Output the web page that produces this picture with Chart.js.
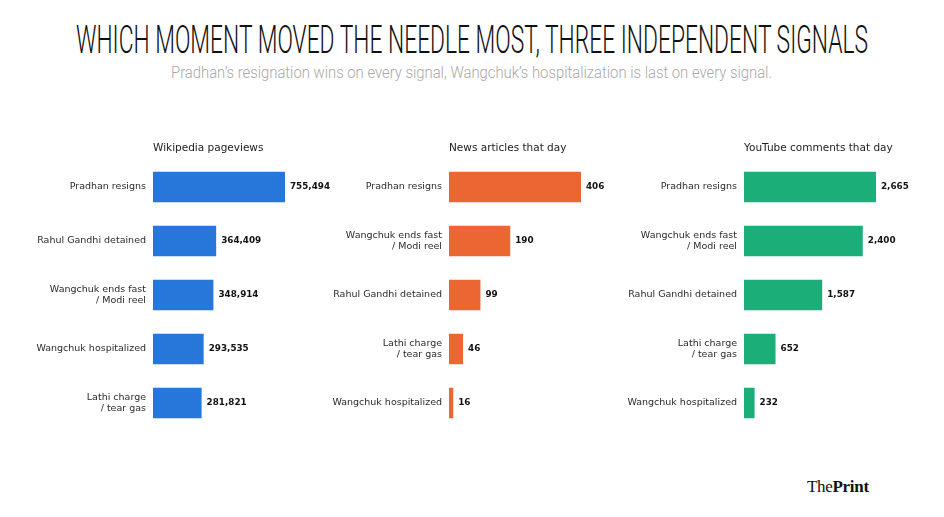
<!DOCTYPE html>
<html>
<head>
<meta charset="utf-8">
<script src="https://cdn.jsdelivr.net/npm/chart.js@4.4.1/dist/chart.umd.min.js"></script>
<style>
  html,body{margin:0;padding:0;background:#fff;width:944px;height:517px;overflow:hidden;position:relative;}
  #headline{position:absolute;left:0;top:18px;white-space:nowrap;font-family:"Roboto","Liberation Sans Narrow",sans-serif;font-weight:300;font-size:39px;line-height:44px;color:#111;transform-origin:0 0;}
  #sub{position:absolute;left:0;top:63px;white-space:nowrap;font-family:"Roboto","Liberation Sans Narrow",sans-serif;font-weight:300;font-size:16px;line-height:20px;color:#a8a8a8;transform-origin:0 0;}
  #logo{position:absolute;left:807px;top:477px;font-family:"Liberation Serif","DejaVu Serif",serif;font-size:17px;color:#111;letter-spacing:-0.3px;}
  canvas{position:absolute;}
</style>
</head>
<body>
<div id="headline">WHICH MOMENT MOVED THE NEEDLE MOST, THREE INDEPENDENT SIGNALS</div>
<div id="sub">Pradhan’s resignation wins on every signal, Wangchuk’s hospitalization is last on every signal.</div>
<div id="logo">The<b>Print</b></div>
<canvas id="c1" width="320" height="315" style="left:30px;top:120px;width:320px;height:315px"></canvas>
<canvas id="c2" width="320" height="315" style="left:326px;top:120px;width:320px;height:315px"></canvas>
<canvas id="c3" width="320" height="315" style="left:621px;top:120px;width:320px;height:315px"></canvas>
<script>
// ---- data ----
const wikiTitle = "Wikipedia pageviews";
const wikiLabels = [["Pradhan resigns"],["Rahul Gandhi detained"],["Wangchuk ends fast","/ Modi reel"],["Wangchuk hospitalized"],["Lathi charge","/ tear gas"]];
const wikiValues = [755494, 364409, 348914, 293535, 281821];

const newsTitle = "News articles that day";
const newsLabels = [["Pradhan resigns"],["Wangchuk ends fast","/ Modi reel"],["Rahul Gandhi detained"],["Lathi charge","/ tear gas"],["Wangchuk hospitalized"]];
const newsValues = [406, 190, 99, 46, 16];

const ytTitle = "YouTube comments that day";
const ytLabels = [["Pradhan resigns"],["Wangchuk ends fast","/ Modi reel"],["Rahul Gandhi detained"],["Lathi charge","/ tear gas"],["Wangchuk hospitalized"]];
const ytValues = [2665, 2400, 1587, 652, 232];

const colors = ["#2776d9", "#ec6633", "#1bae78"];

// fit headline/subtitle widths
function fit(id, left, width){
  const el = document.getElementById(id);
  const w = el.getBoundingClientRect().width;
  el.style.left = left + "px";
  el.style.transform = "scaleX(" + (width / w) + ")";
}
fit("headline", 76, 792);
fit("sub", 171, 601);

const labelPlugin = {
  id: "vals",
  afterDatasetsDraw(chart, args, opts){
    const ctx = chart.ctx;
    const meta = chart.getDatasetMeta(0);
    ctx.save();
    ctx.font = "bold 8.8px 'DejaVu Sans'";
    ctx.fillStyle = "#111";
    ctx.textBaseline = "middle";
    ctx.textAlign = "left";
    meta.data.forEach((bar, i) => {
      const v = chart.data.datasets[0].data[i];
      ctx.fillText(v.toLocaleString("en-US"), bar.x + 4, bar.y);
    });
    ctx.font = "10.5px 'DejaVu Sans'";
    ctx.fillStyle = "#222";
    ctx.textBaseline = "middle";
    ctx.fillText(opts.title, chart.chartArea.left, 28);
    ctx.restore();
  }
};

function make(id, title, labels, values, color){
  const maxV = Math.max(...values);
  new Chart(document.getElementById(id), {
    type: "bar",
    data: {
      labels: labels,
      datasets: [{
        data: values,
        backgroundColor: color,
        borderColor: "rgba(255,255,255,0.35)",
        borderWidth: 1,
        categoryPercentage: 1,
        barPercentage: 0.6
      }]
    },
    options: {
      indexAxis: "y",
      responsive: false,
      animation: false,
      devicePixelRatio: 1,
      layout: { padding: { top: 40, bottom: 5, left: 0, right: 25 } },
      plugins: { legend: { display: false }, tooltip: { enabled: false }, vals: { title: title } },
      scales: {
        x: { display: false, min: 0, max: maxV * 172 / 133 },
        y: {
          grid: { display: false, drawTicks: false },
          border: { display: false },
          ticks: { color: "#2a2a2a", padding: 7, font: { family: "DejaVu Sans", size: 9.5, lineHeight: 1.18 } },
          afterFit(scale){ scale.width = 123; scale.paddingTop = 0; scale.paddingBottom = 0; }
        }
      }
    },
    plugins: [labelPlugin]
  });
}
make("c1", wikiTitle, wikiLabels, wikiValues, colors[0]);
make("c2", newsTitle, newsLabels, newsValues, colors[1]);
make("c3", ytTitle, ytLabels, ytValues, colors[2]);
</script>
</body>
</html>
